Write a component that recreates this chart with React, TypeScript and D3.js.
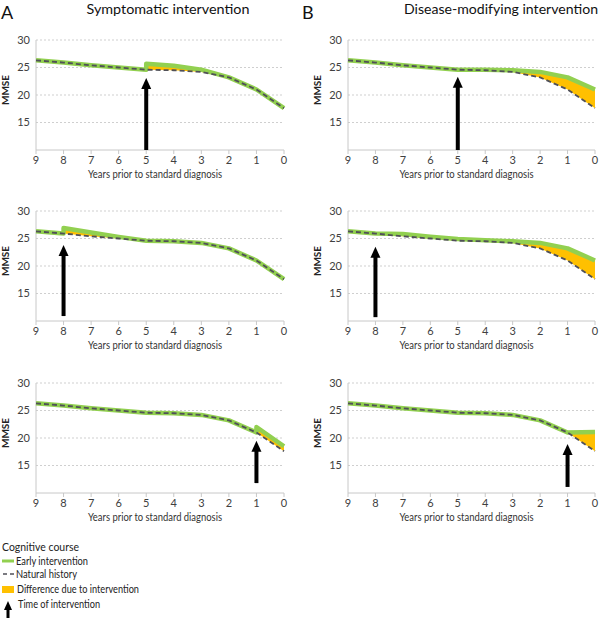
import React from "react";
import * as d3 from "d3";

const years = [9, 8, 7, 6, 5, 4, 3, 2, 1, 0];
const naturalHistory = [26.3, 25.9, 25.4, 25.0, 24.6, 24.5, 24.2, 23.2, 21.0, 17.6];
const yTicks = [15, 20, 25, 30];

const panelLetters = ["A", "B"];
const columnTitles = ["Symptomatic intervention", "Disease-modifying intervention"];
const interventionYears = [5, 8, 1];

// early-intervention segments: [column][row]
const effectYears = [
  [[5, 4, 3, 2], [8, 7, 6, 5], [1, 0]],
  [[5, 4, 3, 2, 1, 0], [8, 7, 6, 5, 4, 3, 2, 1, 0], [1, 0]],
];
const effectValues = [
  [[25.7, 25.3, 24.6, 23.2], [26.9, 26.1, 25.3, 24.6], [22.0, 18.5]],
  [[24.6, 24.6, 24.5, 24.2, 23.2, 21.0], [25.9, 25.8, 25.3, 24.9, 24.7, 24.5, 24.2, 23.2, 21.0], [21.0, 21.1]],
];
const arrowBase = [[10, 10.9, 11.8], [10, 10.7, 11.1]];
const arrowTip = [[23.1, 23.8, 19.5], [23.3, 23.5, 18.9]];

const legendTitle = "Cognitive course";
const legendLabels = ["Early intervention", "Natural history", "Difference due to intervention", "Time of intervention"];

const GREEN = "#92d050";
const YELLOW = "#ffc000";
const DASH = "#505058";
const FONT = "Lato, 'Open Sans', sans-serif";

const colX = [[36, 284], [348, 595]];
const rowTop = [40, 211, 383];
const PLOT_H = 110;

function Arrow({ x, y1, y2, headW = 10, headH = 11, w = 4 }: any) {
  return (
    <g>
      <line x1={x} x2={x} y1={y1} y2={y2 + headH - 1} stroke="#000" strokeWidth={w} />
      <path d={`M${x},${y2} L${x - headW / 2},${y2 + headH} L${x + headW / 2},${y2 + headH} Z`} fill="#000" />
    </g>
  );
}

function Panel({ col, row }: { col: number; row: number }) {
  const x = d3.scaleLinear().domain([9, 0]).range(colX[col]);
  const top = rowTop[row];
  const y = d3.scaleLinear().domain([10, 30]).range([top + PLOT_H, top]);
  const iy = interventionYears[row];
  const natAt = (yr: number) => naturalHistory[years.indexOf(yr)];

  const eYears = effectYears[col][row];
  const eVals = effectValues[col][row];
  const lastEff = eYears[eYears.length - 1];

  const greenPts: [number, number][] = [];
  years.forEach((yr, i) => {
    if (yr >= iy) greenPts.push([yr, naturalHistory[i]]);
  });
  eYears.forEach((yr, i) => greenPts.push([yr, eVals[i]]));
  years.forEach((yr, i) => {
    if (yr < lastEff) greenPts.push([yr, naturalHistory[i]]);
  });

  const line = d3
    .line<[number, number]>()
    .x((d) => x(d[0]))
    .y((d) => y(d[1]));
  const area = d3
    .area<number>()
    .x((_, i) => x(eYears[i]))
    .y0((_, i) => y(natAt(eYears[i])))
    .y1((d) => y(d));

  const natPts: [number, number][] = years.map((yr, i) => [yr, naturalHistory[i]]);
  const [x0, x1] = colX[col];
  const axisY = top + PLOT_H;

  return (
    <g>
      {yTicks.map((t) => (
        <g key={t}>
          <line x1={x0} x2={x1} y1={y(t)} y2={y(t)} stroke="#cfcfcf" strokeWidth={1} strokeDasharray="2,2" />
          <text x={x0 - 6} y={y(t)} dy="0.35em" textAnchor="end" fontSize={11} fill="#404040" fontFamily={FONT}>
            {t}
          </text>
        </g>
      ))}
      <line x1={x0} x2={x0} y1={top} y2={axisY} stroke="#c8c8c8" strokeWidth={1} />
      <line x1={x0} x2={x1} y1={axisY} y2={axisY} stroke="#c8c8c8" strokeWidth={1} />
      {years.map((yr) => (
        <g key={yr}>
          <line x1={x(yr)} x2={x(yr)} y1={axisY} y2={axisY + 4} stroke="#c8c8c8" />
          <text x={x(yr)} y={axisY + 14} textAnchor="middle" fontSize={11} fill="#404040" fontFamily={FONT}>
            {yr}
          </text>
        </g>
      ))}
      <text
        transform={`translate(${x0 - 27},${top + 50}) rotate(-90)`}
        textAnchor="middle"
        fontSize={10}
        fontWeight="bold"
        fill="#222"
        fontFamily={FONT}
      >
        MMSE
      </text>
      <text
        x={(x0 + x1) / 2 - 5}
        y={axisY + 28}
        textAnchor="middle"
        fontSize={11}
        fill="#333"
        fontFamily={FONT}
        textLength={134}
        lengthAdjust="spacingAndGlyphs"
      >
        Years prior to standard diagnosis
      </text>
      <path d={area(eVals) || ""} fill={YELLOW} />
      <path d={line(greenPts) || ""} fill="none" stroke={GREEN} strokeWidth={4.5} strokeLinejoin="round" />
      <path d={line(natPts) || ""} fill="none" stroke={DASH} strokeWidth={1.8} strokeDasharray="5,3" />
      <Arrow x={x(iy)} y1={y(arrowBase[col][row])} y2={y(arrowTip[col][row])} />
    </g>
  );
}

const titleCenter = [168, 501];
const titleWidth = [163, 194];

export default function App() {
  return (
    <svg width={600} height={618} style={{ position: "absolute", left: 0, top: 0, background: "#fff" }}>
      <rect width={600} height={618} fill="#fff" />
      {panelLetters.map((l, c) => (
        <text key={l} x={c === 0 ? 1 : 302} y={19} fontSize={18} fill="#111" fontFamily={FONT}>
          {l}
        </text>
      ))}
      {columnTitles.map((t, c) => (
        <text
          key={t}
          x={titleCenter[c]}
          y={14}
          textAnchor="middle"
          fontSize={14}
          fill="#111"
          fontFamily={FONT}
          textLength={titleWidth[c]}
          lengthAdjust="spacingAndGlyphs"
        >
          {t}
        </text>
      ))}
      {[0, 1].map((c) => [0, 1, 2].map((r) => <Panel key={`${c}-${r}`} col={c} row={r} />))}
      <g fontFamily={FONT} fill="#222">
        <text x={2} y={551} fontSize={12} textLength={77} lengthAdjust="spacingAndGlyphs">
          {legendTitle}
        </text>
        <line x1={2} x2={14} y1={561} y2={561} stroke={GREEN} strokeWidth={3} />
        <text x={16} y={565} fontSize={10.5} textLength={72} lengthAdjust="spacingAndGlyphs">
          {legendLabels[0]}
        </text>
        <line x1={3} x2={14} y1={574} y2={574} stroke={DASH} strokeWidth={1.5} strokeDasharray="4,3" />
        <text x={16} y={578} fontSize={10.5} textLength={61} lengthAdjust="spacingAndGlyphs">
          {legendLabels[1]}
        </text>
        <rect x={2} y={586} width={12} height={7} fill={YELLOW} />
        <text x={17} y={593} fontSize={10.5} textLength={122} lengthAdjust="spacingAndGlyphs">
          {legendLabels[2]}
        </text>
        <Arrow x={8} y1={618} y2={601} headW={8} headH={9} w={3} />
        <text x={18} y={608} fontSize={10.5} textLength={82} lengthAdjust="spacingAndGlyphs">
          {legendLabels[3]}
        </text>
      </g>
    </svg>
  );
}
